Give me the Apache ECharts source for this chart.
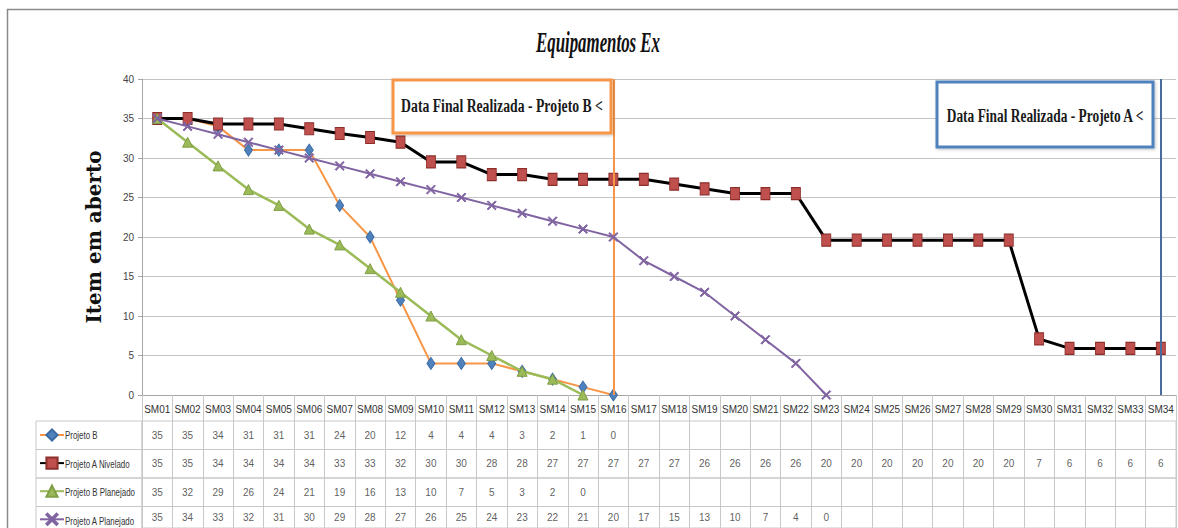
<!DOCTYPE html>
<html>
<head>
<meta charset="utf-8">
<title>Equipamentos Ex</title>
<script src="https://cdn.jsdelivr.net/npm/echarts@6/dist/echarts.min.js"></script>
<style>
  html, body { margin: 0; padding: 0; background: #ffffff; }
  #chart { width: 1178px; height: 528px; }
</style>
</head>
<body>
<div id="chart"></div>
<script>
// Weekly categories (SM = semana)
const categories = [
  'SM01','SM02','SM03','SM04','SM05','SM06','SM07','SM08','SM09','SM10',
  'SM11','SM12','SM13','SM14','SM15','SM16','SM17','SM18','SM19','SM20',
  'SM21','SM22','SM23','SM24','SM25','SM26','SM27','SM28','SM29','SM30',
  'SM31','SM32','SM33','SM34'
];

// Open items per week
const projetoB = [35, 35, 34, 31, 31, 31, 24, 20, 12, 4, 4, 4, 3, 2, 1, 0];
const projetoANivelado = [
  35, 35, 34.3, 34.3, 34.3, 33.7, 33.1, 32.6, 32, 29.5,
  29.5, 27.9, 27.9, 27.3, 27.3, 27.3, 27.3, 26.7, 26.1, 25.5,
  25.5, 25.5, 19.6, 19.6, 19.6, 19.6, 19.6, 19.6, 19.6, 7.1,
  5.9, 5.9, 5.9, 5.9
];
const projetoBPlanejado = [35, 32, 29, 26, 24, 21, 19, 16, 13, 10, 7, 5, 3, 2, 0];
const projetoAPlanejado = [35, 34, 33, 32, 31, 30, 29, 28, 27, 26, 25, 24, 23, 22, 21, 20, 17, 15, 13, 10, 7, 4, 0];

// Y axis ticks
const yMin = 0, yMax = 40, yStep = 5;

// Final delivery dates
const fimProjetoB = 'SM16';
const fimProjetoA = 'SM34';

const seriesNames = ['Projeto B', 'Projeto A Nivelado', 'Projeto B Planejado', 'Projeto A Planejado'];
const seriesData = [projetoB, projetoANivelado, projetoBPlanejado, projetoAPlanejado];

const sans = '"Liberation Sans", Arial, sans-serif';
const gridColor = '#c4c4c4';
const tableLine = '#c8c8c8';

// layout of the plot and data table
const plotLeft = 142, plotRight = 2, plotTop = 79, plotBottom = 133;
const tableTop = 421, rowH = 28.5, tableLeft = 36;

// horizontal scale that makes a text occupy a given width
const measureCtx = document.createElement('canvas').getContext('2d');
function fitScale(text, font, width) {
  measureCtx.font = font;
  const w = measureCtx.measureText(text).width;
  return w > 0 ? width / w : 1;
}

const xSymbol = 'path://M0,1 L1,0 L5,4 L9,0 L10,1 L6,5 L10,9 L9,10 L5,6 L1,10 L0,9 L4,5 Z';

const styles = [
  { line: '#F79646', width: 2, symbol: 'diamond', size: [8, 12], color: '#4F81BD', border: '#3b6aa3' },
  { line: '#000000', width: 3, symbol: 'rect', size: [9, 12], color: '#C0504D', border: '#8c2f2c' },
  { line: '#9BBB59', width: 2.5, symbol: 'triangle', size: [10, 10], color: '#9BBB59', border: '#7f9e45' },
  { line: '#8064A2', width: 2, symbol: xSymbol, size: [9, 9], color: '#8064A2', border: '#8064A2' }
];

const grids = [{ left: plotLeft, right: plotRight, top: plotTop, bottom: plotBottom }];
const xAxes = [{
  type: 'category', gridIndex: 0, data: categories, boundaryGap: true,
  axisLine: { lineStyle: { color: '#a6a6a6', width: 1 } },
  axisTick: { show: true, interval: 0, length: 26, lineStyle: { color: tableLine } },
  axisLabel: { interval: 0, fontSize: 10, color: '#333', fontFamily: sans, margin: 9 },
  splitLine: { show: false }
}];
const yAxes = [{
  type: 'value', gridIndex: 0, min: yMin, max: yMax, interval: yStep,
  axisLine: { show: true, lineStyle: { color: '#a6a6a6' } },
  axisTick: { show: true, length: 4, lineStyle: { color: '#a6a6a6' } },
  axisLabel: { fontSize: 10, color: '#444', fontFamily: sans, margin: 8 },
  splitLine: { show: true, lineStyle: { color: gridColor, width: 1 } },
  name: 'Item em aberto', nameLocation: 'middle', nameRotate: 90, nameGap: 38,
  nameTextStyle: { fontFamily: '"DejaVu Serif", serif', fontWeight: 'bold', fontSize: 20, color: '#111' }
}];

const series = [];
seriesData.forEach((arr, i) => {
  const s = styles[i];
  const item = {
    name: seriesNames[i], type: 'line', xAxisIndex: 0, yAxisIndex: 0,
    data: arr, symbol: s.symbol, symbolSize: s.size, showSymbol: true,
    lineStyle: { color: s.line, width: s.width },
    itemStyle: { color: s.color, borderColor: s.border, borderWidth: 1 },
    emphasis: { disabled: true },
    z: 3 + i
  };
  if (i === 0) {
    item.markLine = {
      silent: true, symbol: 'none', label: { show: false },
      data: [{ xAxis: fimProjetoB, lineStyle: { color: '#F79646', width: 2, type: 'solid' } }]
    };
  }
  if (i === 1) {
    item.markLine = {
      silent: true, symbol: 'none', label: { show: false },
      data: [{ xAxis: fimProjetoA, lineStyle: { color: '#4a6b9e', width: 2, type: 'solid' } }]
    };
  }
  series.push(item);

  // data table row
  const g = i + 1;
  grids.push({
    left: plotLeft, right: plotRight, top: tableTop + rowH * i, height: rowH,
    show: true, borderColor: tableLine, borderWidth: 1, backgroundColor: 'transparent'
  });
  xAxes.push({
    type: 'category', gridIndex: g, data: categories, boundaryGap: true,
    axisLine: { show: false }, axisTick: { show: false }, axisLabel: { show: false },
    splitLine: { show: true, interval: 0, lineStyle: { color: tableLine } }
  });
  yAxes.push({ type: 'value', gridIndex: g, min: 0, max: 1, show: false });
  series.push({
    name: 'tabela ' + seriesNames[i], type: 'scatter', xAxisIndex: g, yAxisIndex: g,
    silent: true, symbol: 'circle', symbolSize: 1, itemStyle: { color: 'rgba(255,255,255,0)' },
    data: arr.map((v, j) => (v == null ? null : [j, 0.5, v])),
    label: {
      show: true, position: 'inside', fontSize: 10, color: '#333', fontFamily: sans,
      formatter: p => String(Math.round(p.value[2]))
    },
    labelLayout: { hideOverlap: false }
  });
});

// legend column of the table: cell frames and condensed series names
const legendFont = '11px "Liberation Sans"';
const legendCells = [];
seriesNames.forEach((n, i) => {
  legendCells.push({
    type: 'rect', silent: true,
    shape: { x: tableLeft, y: tableTop + rowH * i, width: plotLeft - tableLeft, height: rowH },
    style: { fill: 'none', stroke: tableLine, lineWidth: 1 }
  });
  legendCells.push({
    type: 'text', silent: true, x: tableLeft + 29, y: tableTop + rowH * i + rowH / 2,
    scaleX: 0.72,
    style: { text: n, font: legendFont, fill: '#333', textAlign: 'left', textVerticalAlign: 'middle' }
  });
});

const titleFont = 'italic bold 29px "Liberation Serif"';
const titleText = 'Equipamentos Ex';
const boxFont = 'bold 19px "Liberation Serif"';
const textB = 'Data Final Realizada - Projeto B <';
const textA = 'Data Final Realizada - Projeto A <';

const chart = echarts.init(document.getElementById('chart'), null, { renderer: 'svg' });
chart.setOption({
  backgroundColor: '#ffffff',
  animation: false,
  grid: grids,
  xAxis: xAxes,
  yAxis: yAxes,
  legend: {
    data: seriesNames, orient: 'vertical', left: tableLeft + 3, top: tableTop + 7,
    itemWidth: 24, itemHeight: 14, itemGap: rowH - 14, padding: 0,
    selectedMode: false, formatter: () => '',
    textStyle: { fontSize: 10, color: '#333', fontFamily: sans }
  },
  series: series,
  graphic: [
    {
      type: 'rect', silent: true, z: 0,
      shape: { x: 7.5, y: 9.5, width: 1190, height: 540 },
      style: { fill: 'none', stroke: '#8a8a8a', lineWidth: 1.5 }
    },
    {
      type: 'text', silent: true, x: 598, y: 42,
      scaleX: fitScale(titleText, titleFont, 124),
      style: { text: titleText, font: titleFont, fill: '#111', textAlign: 'center', textVerticalAlign: 'middle' }
    },
    {
      type: 'rect', silent: true, z: 100,
      shape: { x: 393, y: 80, width: 218, height: 53 },
      style: { fill: '#ffffff', stroke: '#F79646', lineWidth: 3, shadowBlur: 3, shadowColor: 'rgba(0,0,0,0.25)', shadowOffsetX: 1, shadowOffsetY: 1 }
    },
    {
      type: 'text', silent: true, z: 101, x: 502, y: 106,
      scaleX: fitScale(textB, boxFont, 202),
      style: { text: textB, font: boxFont, fill: '#1a1a1a', textAlign: 'center', textVerticalAlign: 'middle' }
    },
    {
      type: 'rect', silent: true, z: 100,
      shape: { x: 937, y: 82, width: 216, height: 65 },
      style: { fill: '#ffffff', stroke: '#4F81BD', lineWidth: 3, shadowBlur: 3, shadowColor: 'rgba(0,0,0,0.25)', shadowOffsetX: 1, shadowOffsetY: 1 }
    },
    {
      type: 'text', silent: true, z: 101, x: 1045, y: 116,
      scaleX: fitScale(textA, boxFont, 198),
      style: { text: textA, font: boxFont, fill: '#1a1a1a', textAlign: 'center', textVerticalAlign: 'middle' }
    }
  ].concat(legendCells)
});
</script>
</body>
</html>
